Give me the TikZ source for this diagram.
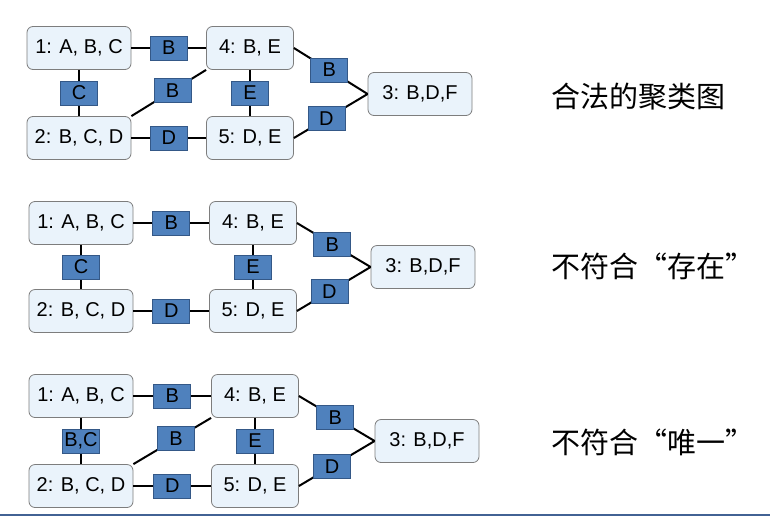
\documentclass[tikz,border=0pt]{standalone}
\usepackage{fontspec}
\setmainfont{Liberation Sans}
\newfontfamily\cjkfont{Noto Sans CJK SC}
\usetikzlibrary{positioning}
\definecolor{sepblue}{RGB}{79,129,189}
\definecolor{sepedge}{RGB}{52,88,135}
\definecolor{clfill}{RGB}{234,243,251}
\definecolor{cledge}{RGB}{125,125,125}
\definecolor{rulecol}{RGB}{66,98,148}

\begin{document}
\begin{tikzpicture}[x=1pt, y=-1pt,
  every node/.style={font=\fontsize{20}{22}\selectfont},
  clus/.style  ={draw=cledge, fill=clfill, rounded corners=6pt, line width=0.8pt,
                 minimum width=104pt, minimum height=43pt, inner sep=2pt},
  clshort/.style={clus, minimum width=87pt},
  sepset/.style={draw=sepedge, fill=sepblue, line width=0.6pt,
                 minimum width=37pt, minimum height=24pt, inner sep=1pt},
  caption/.style={font=\cjkfont\fontsize{29}{32}\selectfont, anchor=west, inner sep=0pt},
  link/.style  ={line width=2pt}]

\useasboundingbox (0,0) rectangle (770,517);

%% ── Panel 1: valid cluster graph ─────────────────────────────────
\node[clus]    (pa1) at (79,48)   {1: A, B, C};
\node[clus]    (pa2) at (79,138)  {2: B, C, D};
\node[clshort] (pa4) at (250,48)  {4: B, E};
\node[clshort] (pa5) at (250,138) {5: D, E};
\node[clus]    (pa3) at (420,94)  {3: B,D,F};

\draw[link] (pa1) -- node[sepset] (pa14) {B} (pa4);
\draw[link] (pa1) -- node[sepset] (pa12) {C} (pa2);
\draw[link] (pa2.north east) -- node[sepset, pos=0.55] (pa24) {B} (pa4.south west);
\draw[link] (pa4) -- node[sepset] (pa45) {E} (pa5);
\draw[link] (pa2) -- node[sepset] (pa25) {D} (pa5);
\draw[link] (pa4.east) -- node[sepset, pos=0.48] (pa43) {B} (pa3.west);
\draw[link] (pa5.east) -- node[sepset, pos=0.44] (pa53) {D} (pa3.west);

\node[caption] (capa) at (551,97) {合法的聚类图};

%% ── Panel 2: violates existence ──────────────────────────────────
\node[clus]    (pb1) at (81,223)  {1: A, B, C};
\node[clus]    (pb2) at (81,311)  {2: B, C, D};
\node[clshort] (pb4) at (253,223) {4: B, E};
\node[clshort] (pb5) at (253,311) {5: D, E};
\node[clus]    (pb3) at (423,267) {3: B,D,F};

\draw[link] (pb1) -- node[sepset] (pb14) {B} (pb4);
\draw[link] (pb1) -- node[sepset] (pb12) {C} (pb2);
\draw[link] (pb4) -- node[sepset] (pb45) {E} (pb5);
\draw[link] (pb2) -- node[sepset] (pb25) {D} (pb5);
\draw[link] (pb4.east) -- node[sepset, pos=0.48] (pb43) {B} (pb3.west);
\draw[link] (pb5.east) -- node[sepset, pos=0.44] (pb53) {D} (pb3.west);

\node[caption] (capb) at (551,266) {不符合“存在”};

%% ── Panel 3: violates uniqueness ─────────────────────────────────
\node[clus]    (pc1) at (81,396)  {1: A, B, C};
\node[clus]    (pc2) at (81,486)  {2: B, C, D};
\node[clshort] (pc4) at (255,396) {4: B, E};
\node[clshort] (pc5) at (255,486) {5: D, E};
\node[clus]    (pc3) at (427,441) {3: B,D,F};

\draw[link] (pc1) -- node[sepset] (pc14) {B} (pc4);
\draw[link] (pc1) -- node[sepset] (pc12) {B,C} (pc2);
\draw[link] (pc2.north east) -- node[sepset, pos=0.55] (pc24) {B} (pc4.south west);
\draw[link] (pc4) -- node[sepset] (pc45) {E} (pc5);
\draw[link] (pc2) -- node[sepset] (pc25) {D} (pc5);
\draw[link] (pc4.east) -- node[sepset, pos=0.48] (pc43) {B} (pc3.west);
\draw[link] (pc5.east) -- node[sepset, pos=0.44] (pc53) {D} (pc3.west);

\node[caption] (capc) at (551,442) {不符合“唯一”};

%% ── bottom rule ──────────────────────────────────────────────────
\draw[rulecol, line width=2pt] (0,515) -- (770,515);
\end{tikzpicture}
\end{document}
